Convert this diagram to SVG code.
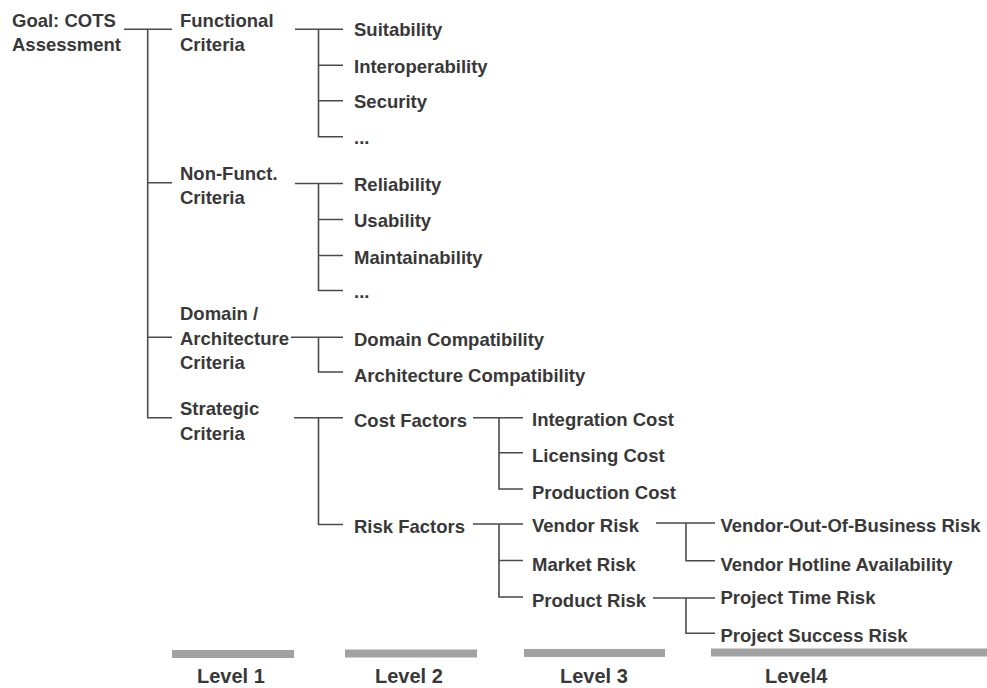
<svg xmlns="http://www.w3.org/2000/svg" width="987" height="688" viewBox="0 0 987 688">
<style>
text{font-family:"Liberation Sans",Arial,sans-serif;font-weight:bold;font-size:18.5px;fill:#383838}
.lv{font-size:20px}
.c{stroke:#4a4a4a;stroke-width:1.6;fill:none}
.bar{fill:#a2a2a2}
</style>
<rect width="987" height="688" fill="#fff"/>
<g id="connectors" class="c">
<path d="M124 29.3H172M147.7 29.3V417.7H172M147.7 182.7H172M147.7 337.3H172"/>
<path d="M295 29.3H343M318.5 29.3V136.7H343M318.5 65.3H343M318.5 100.7H343"/>
<path d="M295 183.5H343M318.5 183.5V290.5H343M318.5 219.5H343M318.5 255.5H343"/>
<path d="M291 337.3H343M318.5 337.3V372H343"/>
<path d="M294 417.7H343M318.5 417.7V524.5H343"/>
<path d="M473 417.7H523M499 417.7V489H523M499 452.7H523"/>
<path d="M473 524H523M499 524V597H523M499 560.5H523"/>
<path d="M656 523H715M686 523V560.7H715"/>
<path d="M653 598H715M686 598V633.3H715"/>
</g>
<g id="goal"><text x="12" y="27">Goal: COTS</text><text x="12" y="51">Assessment</text></g>
<g id="functional"><text x="180" y="27">Functional</text><text x="180" y="51">Criteria</text></g>
<g id="nonfunct"><text x="180" y="180">Non-Funct.</text><text x="180" y="204">Criteria</text></g>
<g id="domain"><text x="180" y="320">Domain /</text><text x="180" y="345">Architecture</text><text x="180" y="369">Criteria</text></g>
<g id="strategic"><text x="180" y="415">Strategic</text><text x="180" y="440">Criteria</text></g>
<g id="suitability"><text x="354" y="35.5">Suitability</text></g>
<g id="interoperability"><text x="354" y="72.5">Interoperability</text></g>
<g id="security"><text x="354" y="108">Security</text></g>
<g id="more1"><text x="354" y="144">...</text></g>
<g id="reliability"><text x="354" y="191">Reliability</text></g>
<g id="usability"><text x="354" y="227">Usability</text></g>
<g id="maintainability"><text x="354" y="264">Maintainability</text></g>
<g id="more2"><text x="354" y="298">...</text></g>
<g id="domaincompat"><text x="354" y="345.5">Domain Compatibility</text></g>
<g id="archcompat"><text x="354" y="382">Architecture Compatibility</text></g>
<g id="costfactors"><text x="354" y="426.5">Cost Factors</text></g>
<g id="riskfactors"><text x="354" y="532.5">Risk Factors</text></g>
<g id="integrationcost"><text x="532" y="426">Integration Cost</text></g>
<g id="licensingcost"><text x="532" y="462">Licensing Cost</text></g>
<g id="productioncost"><text x="532" y="499">Production Cost</text></g>
<g id="vendorrisk"><text x="532" y="532">Vendor Risk</text></g>
<g id="marketrisk"><text x="532" y="571">Market Risk</text></g>
<g id="productrisk"><text x="532" y="606.5">Product Risk</text></g>
<g id="vendorout"><text x="720.5" y="532">Vendor-Out-Of-Business Risk</text></g>
<g id="vendorhotline"><text x="720.5" y="571">Vendor Hotline Availability</text></g>
<g id="projecttime"><text x="720.5" y="604">Project Time Risk</text></g>
<g id="projectsuccess"><text x="720.5" y="641.5">Project Success Risk</text></g>
<g id="levels">
<rect class="bar" x="172" y="650" width="122" height="8"/>
<rect class="bar" x="345" y="649.5" width="132" height="8"/>
<rect class="bar" x="524" y="649" width="141" height="8"/>
<rect class="bar" x="711" y="648.5" width="276" height="8"/>
<text class="lv" x="197" y="683">Level 1</text>
<text class="lv" x="375" y="683">Level 2</text>
<text class="lv" x="560" y="683">Level 3</text>
<text class="lv" x="765" y="683">Level4</text>
</g>
</svg>
